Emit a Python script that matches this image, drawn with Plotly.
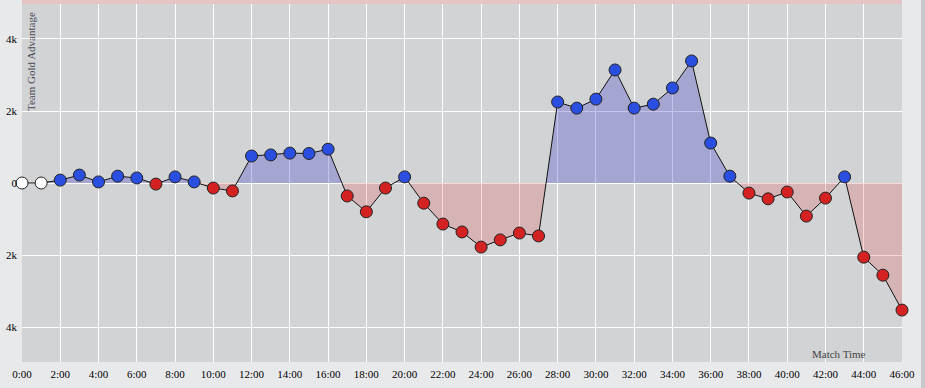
import plotly.graph_objects as go

minutes = list(range(0, 47))
gold_adv = [0, 0, 80, 220, 30, 190, 140, -30, 170, 30,
            -140, -220, 750, 780, 830, 820, 940, -360, -800, -140,
            170, -560, -1140, -1360, -1780, -1580, -1390, -1470, 2250, 2080,
            2330, 3140, 2080, 2190, 2640, 3390, 1110, 190, -280, -440,
            -250, -920, -420, 170, -2060, -2560, -3530]

x_tick_vals = list(range(0, 47, 2))
x_tick_text = ["%d:00" % m for m in x_tick_vals]
y_tick_vals = [-4000, -2000, 0, 2000, 4000]
y_tick_text = ["4k", "2k", "0", "2k", "4k"]

BLUE = "#2a4ee0"
RED = "#d42222"
FONT = "Liberation Serif"

# build fill outlines with interpolated zero crossings
fx, fy = [], []
for i in range(len(minutes)):
    if i > 0:
        a, b = gold_adv[i - 1], gold_adv[i]
        if (a > 0 > b) or (a < 0 < b):
            t = a / (a - b)
            fx.append(minutes[i - 1] + t * (minutes[i] - minutes[i - 1]))
            fy.append(0)
    fx.append(minutes[i])
    fy.append(gold_adv[i])
pos = [max(v, 0) for v in fy]
neg = [min(v, 0) for v in fy]
mcol = [BLUE if v > 0 else (RED if v < 0 else "#ffffff") for v in gold_adv]

fig = go.Figure()
fig.add_trace(go.Scatter(x=fx, y=pos, mode="none", fill="tozeroy",
                         fillcolor="rgba(60,60,200,0.30)", hoverinfo="skip"))
fig.add_trace(go.Scatter(x=fx, y=neg, mode="none", fill="tozeroy",
                         fillcolor="rgba(230,60,60,0.20)", hoverinfo="skip"))
fig.add_trace(go.Scatter(x=minutes, y=gold_adv, mode="lines+markers",
                         line=dict(color="#111111", width=1),
                         marker=dict(size=12, color=mcol,
                                     line=dict(color="#222222", width=1)),
                         cliponaxis=False))

fig.update_layout(
    width=925, height=388,
    margin=dict(l=22, r=23, t=4, b=26),
    paper_bgcolor="#e8e9eb",
    plot_bgcolor="#d2d3d5",
    showlegend=False,
    font=dict(family=FONT, size=11, color="#000000"),
    xaxis=dict(range=[0, 46], tickvals=x_tick_vals, ticktext=x_tick_text,
               showgrid=True, gridcolor="#ffffff", gridwidth=1, automargin=False,
               zeroline=False, showline=False, ticks="", ticklabelstandoff=4,
               tickfont=dict(family=FONT, size=11, color="#000000")),
    yaxis=dict(range=[-4972, 4972], tickvals=y_tick_vals, ticktext=y_tick_text,
               showgrid=True, gridcolor="#ffffff", gridwidth=1, automargin=False,
               zeroline=True, zerolinecolor="#ffffff", zerolinewidth=1,
               showline=False, ticks="", ticklabelstandoff=4,
               tickfont=dict(family=FONT, size=11, color="#000000")),
    shapes=[
        dict(type="rect", xref="paper", yref="paper", x0=0, x1=1,
             y0=1.0, y1=1.02, fillcolor="#e6c3c5", line=dict(width=0), layer="below"),
        dict(type="rect", xref="paper", yref="paper", x0=(921 - 22) / 880, x1=(930 - 22) / 880,
             y0=-0.1, y1=1.05, fillcolor="#c9cacc", line=dict(width=0)),
    ],
    annotations=[
        dict(text="Team Gold Advantage", xref="paper", yref="paper",
             x=(31 - 22) / 880, y=(362 - 62) / 358, textangle=-90,
             xanchor="center", yanchor="middle",
             showarrow=False, font=dict(family=FONT, size=11, color="#4a4a55")),
        dict(text="Match Time", xref="paper", yref="paper",
             x=(839 - 22) / 880, y=(362 - 354) / 358,
             xanchor="center", yanchor="middle",
             showarrow=False, font=dict(family=FONT, size=11, color="#444444")),
    ],
)

fig.write_html("out.html", config={"displayModeBar": False},
               post_script="document.body.style.margin='0';document.body.style.overflow='hidden';")
